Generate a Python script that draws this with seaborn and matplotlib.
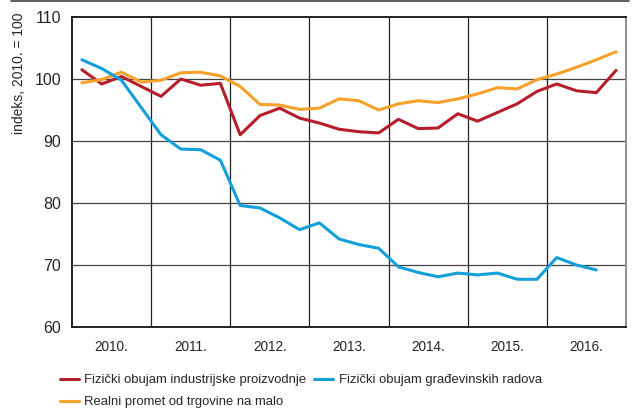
import matplotlib
matplotlib.use("Agg")
import matplotlib.pyplot as plt
from matplotlib.lines import Line2D
import pandas as pd
import seaborn as sns
import numpy as np

# quarterly index values, 2010. = 100
years = ["2010.", "2011.", "2012.", "2013.", "2014.", "2015.", "2016."]

industrija = [101.5, 99.2, 100.4, 98.8, 97.2, 100.0, 99.0, 99.3,
              91.0, 94.1, 95.3, 93.7, 92.9, 91.9, 91.5, 91.3,
              93.5, 92.0, 92.1, 94.4, 93.2, 94.6, 96.0, 98.0,
              99.2, 98.1, 97.8, 101.4]
trgovina = [99.4, 99.9, 101.1, 99.5, 99.8, 101.0, 101.1, 100.5,
            98.8, 95.9, 95.8, 95.1, 95.3, 96.8, 96.5, 95.0,
            96.0, 96.5, 96.2, 96.8, 97.6, 98.6, 98.4, 99.9,
            100.8, 101.9, 103.1, 104.4]
gradjevina = [103.1, 101.7, 99.8, 95.4, 91.0, 88.7, 88.6, 86.9,
              79.6, 79.2, 77.6, 75.7, 76.8, 74.2, 73.3, 72.7,
              69.7, 68.8, 68.1, 68.7, 68.4, 68.7, 67.7, 67.7,
              71.2, 70.0, 69.2]

names = ["Fizički obujam industrijske proizvodnje",
         "Realni promet od trgovine na malo",
         "Fizički obujam građevinskih radova"]
colors = ["#b51f2b", "#f7a02a", "#13a0da"]

rows = []
for name, vals in zip(names, [industrija, trgovina, gradjevina]):
    for i, v in enumerate(vals):
        rows.append({"q": i, "value": v, "serija": name})
df = pd.DataFrame(rows)

sns.set_style("white")
font = ["Liberation Sans Narrow", "Liberation Sans", "DejaVu Sans"]
plt.rcParams["font.family"] = font

fig = plt.figure(figsize=(6.35, 4.12), dpi=100)
ax = fig.add_axes([0.1134, 0.2063, 0.8724, 0.7524])

sns.lineplot(data=df, x="q", y="value", hue="serija", hue_order=names,
             palette=colors, linewidth=2.2, ax=ax, legend=False)

ax.set_xlim(-0.5, 27.5)
ax.set_ylim(60, 110)
ax.set_yticks([60, 70, 80, 90, 100, 110])
ax.set_xticks([1.5 + 4 * i for i in range(len(years))])
ax.set_xticklabels(years, fontsize=9.8)
ax.tick_params(axis="y", labelsize=11.5, length=0, pad=8)
ax.tick_params(axis="x", length=0, pad=9)
ax.set_xlabel("")
ax.set_ylabel("")
# y label sits at the top-left, not centred on the axis
fig.text(19 / 635, 1 - 13 / 412, "indeks, 2010. = 100", rotation=90,
         ha="center", va="top", fontsize=10)

# grid
for y in [70, 80, 90, 100]:
    ax.axhline(y, color="#444444", lw=0.9, zorder=0)
for x in [3.5 + 4 * i for i in range(6)]:
    ax.axvline(x, color="#222222", lw=0.9, zorder=0)

for s in ["left", "bottom", "top"]:
    ax.spines[s].set_color("#111111")
    ax.spines[s].set_linewidth(1.3)
ax.spines["right"].set_color("#888888")
ax.spines["right"].set_linewidth(1.3)

# line at the very top
fig.add_artist(Line2D([0.017, 0.99], [0.997, 0.997], color="#444444", lw=1.2))

handles = [Line2D([0], [0], color=c, lw=2.2) for c in colors]
fig.legend(handles, names, ncol=2, loc="upper left",
           bbox_to_anchor=(0.094, 0.092), frameon=False, fontsize=9.4,
           handlelength=1.45, handletextpad=0.45, columnspacing=0.6,
           labelspacing=0.75, borderaxespad=0, borderpad=0)

plt.savefig("out.png", dpi=100)
